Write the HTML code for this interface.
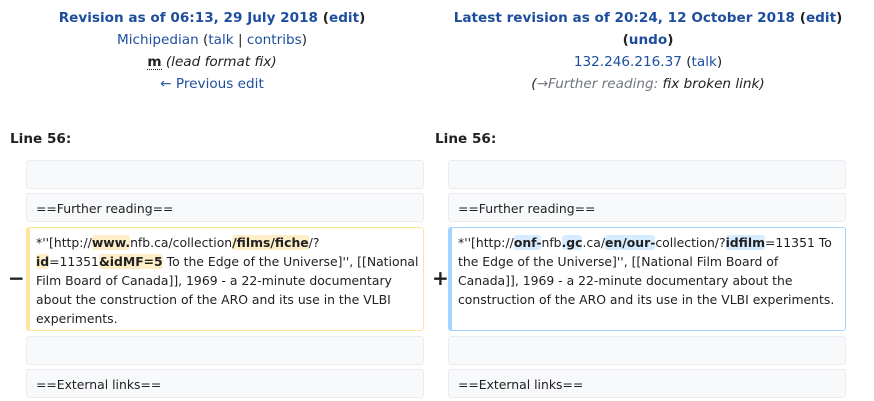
<!DOCTYPE html>
<html><head><meta charset="utf-8"><style>
body{margin:0;width:874px;height:401px;background:#fff;font-family:"DejaVu Sans","Liberation Sans",sans-serif;color:#202122;position:relative;overflow:hidden}
.a{position:absolute;white-space:nowrap}
.c{position:absolute;text-align:center;font-size:13.6px;line-height:22px}
a{color:#1d4e9e;text-decoration:none}
.t{font-weight:bold}
.box{position:absolute;box-sizing:border-box;background:#f8f9fa;border:1px solid #eaecf0;border-radius:3px;font-size:12.4px;line-height:19px;padding:0 0 0 9px;white-space:nowrap}
.del{background:#fff;border:1px solid #ffe49c;border-left:4px solid #ffe49c;padding:5px 0 0 6px}
.ins{background:#fff;border:1px solid #a3d3ff;border-left:4px solid #a3d3ff;padding:5px 0 0 6px}
.del b{background:#feeec8;border-radius:3px}
.ins b{background:#d8ecff;border-radius:3px}
.sign{position:absolute;font-size:20px;font-weight:bold}
</style></head><body>
<div class="c" style="left:0;width:424px;top:7px">
<div class="t"><a>Revision as of 06:13, 29 July 2018</a> (<a>edit</a>)</div>
<div><a>Michipedian</a> (<a>talk</a> | <a>contribs</a>)</div>
<div><b style="border-bottom:1px dotted #202122;line-height:14px;display:inline-block">m</b> <i>(lead format fix)</i></div>
<div><a>← Previous edit</a></div>
</div>
<div class="c" style="left:430px;width:436px;top:7px">
<div class="t"><a>Latest revision as of 20:24, 12 October 2018</a> (<a>edit</a>)</div>
<div class="t">(<a>undo</a>)</div>
<div><a>132.246.216.37</a> (<a>talk</a>)</div>
<div><i>(<span style="color:#72777d">→Further reading:</span>  fix broken link)</i></div>
</div>
<div class="a t" style="left:10px;top:131px;font-size:13.6px">Line 56:</div>
<div class="a t" style="left:435px;top:131px;font-size:13.6px">Line 56:</div>

<div class="box" style="left:26px;top:160px;width:398px;height:29px"></div>
<div class="box" style="left:448px;top:160px;width:398px;height:29px"></div>
<div class="box" style="left:26px;top:193px;width:398px;height:29px;line-height:29px">==Further reading==</div>
<div class="box" style="left:448px;top:193px;width:398px;height:29px;line-height:29px">==Further reading==</div>

<div class="sign" style="left:8px;top:266px">−</div>
<div class="box del" style="left:26px;top:227px;width:398px;height:104px">*''[http://<b>www.</b>nfb.ca/collection<b>/films/fiche</b>/?<br><b>id</b>=11351<b>&amp;idMF=5</b> To the Edge of the Universe]'', [[National<br>Film Board of Canada]], 1969 - a 22-minute documentary<br>about the construction of the ARO and its use in the VLBI<br>experiments.</div>
<div class="sign" style="left:432px;top:266px">+</div>
<div class="box ins" style="left:448px;top:227px;width:398px;height:104px">*''[http://<b>onf-</b>nfb<b>.gc</b>.ca/<b>en/our-</b>collection/?<b>idfilm</b>=11351 To<br>the Edge of the Universe]'', [[National Film Board of<br>Canada]], 1969 - a 22-minute documentary about the<br>construction of the ARO and its use in the VLBI experiments.</div>

<div class="box" style="left:26px;top:336px;width:398px;height:29px"></div>
<div class="box" style="left:448px;top:336px;width:398px;height:29px"></div>
<div class="box" style="left:26px;top:369px;width:398px;height:29px;line-height:29px">==External links==</div>
<div class="box" style="left:448px;top:369px;width:398px;height:29px;line-height:29px">==External links==</div>
</body></html>
